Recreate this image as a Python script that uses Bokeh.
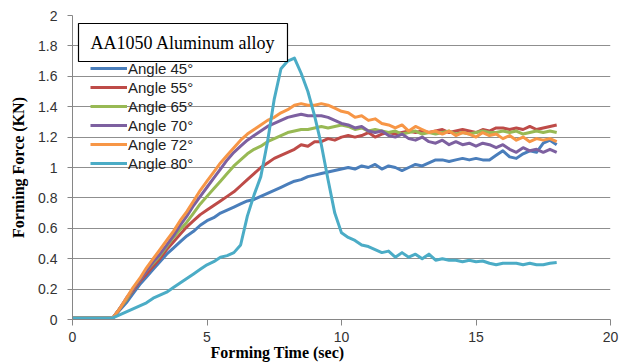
import math
from bokeh.plotting import figure
from bokeh.models import (ColumnDataSource, Legend, LegendItem, Label, Title,
                          CustomJSTickFormatter, FixedTicker)
from bokeh.embed import file_html
from bokeh.resources import INLINE

# ---------------- data ----------------
time_s = [0, 0.25, 0.5, 0.75, 1, 1.25, 1.5, 1.75,
          2, 2.25, 2.5, 2.75, 3, 3.25, 3.5, 3.75,
          4, 4.25, 4.5, 4.75, 5, 5.25, 5.5, 5.75,
          6, 6.25, 6.5, 6.75, 7, 7.25, 7.5, 7.75,
          8, 8.25, 8.5, 8.75, 9, 9.25, 9.5, 9.75,
          10, 10.25, 10.5, 10.75, 11, 11.25, 11.5, 11.75,
          12, 12.25, 12.5, 12.75, 13, 13.25, 13.5, 13.75,
          14, 14.25, 14.5, 14.75, 15, 15.25, 15.5, 15.75,
          16, 16.25, 16.5, 16.75, 17, 17.25, 17.5, 17.75,
          18]

angle_45 = [0.01, 0.01, 0.01, 0.01, 0.01, 0.01, 0.01, 0.06,
            0.11, 0.17, 0.23, 0.28, 0.33, 0.38, 0.43, 0.47,
            0.51, 0.55, 0.58, 0.62, 0.65, 0.67, 0.70, 0.72,
            0.74, 0.76, 0.78, 0.79, 0.81, 0.83, 0.85, 0.87,
            0.89, 0.91, 0.92, 0.94, 0.95, 0.96, 0.97, 0.98,
            0.99, 1.00, 0.99, 1.01, 1.00, 1.02, 0.99, 1.01,
            1.00, 0.98, 1.00, 1.02, 1.01, 1.03, 1.05, 1.05,
            1.04, 1.05, 1.06, 1.05, 1.06, 1.05, 1.05, 1.08,
            1.11, 1.07, 1.06, 1.09, 1.11, 1.10, 1.16, 1.18,
            1.15]

angle_55 = [0.01, 0.01, 0.01, 0.01, 0.01, 0.01, 0.01, 0.07,
            0.13, 0.19, 0.25, 0.30, 0.35, 0.40, 0.46, 0.51,
            0.56, 0.61, 0.65, 0.69, 0.72, 0.75, 0.78, 0.81,
            0.84, 0.88, 0.92, 0.96, 1.00, 1.03, 1.06, 1.08,
            1.10, 1.12, 1.15, 1.14, 1.17, 1.17, 1.19, 1.18,
            1.20, 1.21, 1.20, 1.21, 1.23, 1.20, 1.22, 1.23,
            1.22, 1.23, 1.24, 1.23, 1.24, 1.23, 1.24, 1.25,
            1.23, 1.24, 1.25, 1.24, 1.23, 1.25, 1.24, 1.26,
            1.26, 1.25, 1.26, 1.25, 1.27, 1.25, 1.26, 1.27,
            1.28]

angle_65 = [0.01, 0.01, 0.01, 0.01, 0.01, 0.01, 0.01, 0.07,
            0.13, 0.20, 0.26, 0.32, 0.37, 0.42, 0.48, 0.54,
            0.59, 0.64, 0.70, 0.76, 0.81, 0.86, 0.91, 0.96,
            1.01, 1.05, 1.09, 1.12, 1.14, 1.17, 1.19, 1.21,
            1.23, 1.24, 1.25, 1.25, 1.26, 1.27, 1.26, 1.27,
            1.28, 1.27, 1.25, 1.26, 1.24, 1.25, 1.24, 1.23,
            1.24, 1.22, 1.23, 1.24, 1.22, 1.23, 1.22, 1.23,
            1.24, 1.22, 1.23, 1.22, 1.23, 1.24, 1.23, 1.23,
            1.24, 1.23, 1.24, 1.22, 1.23, 1.24, 1.23, 1.24,
            1.23]

angle_70 = [0.01, 0.01, 0.01, 0.01, 0.01, 0.01, 0.01, 0.07,
            0.14, 0.20, 0.26, 0.32, 0.38, 0.43, 0.49, 0.55,
            0.62, 0.68, 0.75, 0.81, 0.87, 0.93, 0.99, 1.05,
            1.10, 1.14, 1.18, 1.21, 1.24, 1.27, 1.29, 1.31,
            1.33, 1.34, 1.35, 1.34, 1.34, 1.34, 1.33, 1.31,
            1.29, 1.28, 1.26, 1.27, 1.24, 1.23, 1.24, 1.21,
            1.20, 1.22, 1.19, 1.18, 1.20, 1.17, 1.16, 1.18,
            1.15, 1.17, 1.15, 1.16, 1.14, 1.16, 1.15, 1.13,
            1.15, 1.12, 1.10, 1.13, 1.11, 1.12, 1.10, 1.12,
            1.10]

angle_72 = [0.01, 0.01, 0.01, 0.01, 0.01, 0.01, 0.01, 0.07,
            0.14, 0.21, 0.27, 0.34, 0.40, 0.46, 0.52, 0.58,
            0.65, 0.71, 0.78, 0.85, 0.91, 0.97, 1.03, 1.08,
            1.13, 1.18, 1.22, 1.25, 1.28, 1.31, 1.33, 1.36,
            1.38, 1.41, 1.42, 1.41, 1.41, 1.42, 1.41, 1.39,
            1.37, 1.36, 1.33, 1.34, 1.31, 1.32, 1.29, 1.28,
            1.26, 1.28, 1.24, 1.27, 1.25, 1.23, 1.24, 1.22,
            1.24, 1.21, 1.23, 1.22, 1.20, 1.23, 1.21, 1.22,
            1.19, 1.21, 1.18, 1.20, 1.17, 1.19, 1.18, 1.19,
            1.17]

angle_80 = [0.01, 0.01, 0.01, 0.01, 0.01, 0.01, 0.01, 0.03,
            0.05, 0.07, 0.09, 0.11, 0.14, 0.16, 0.18, 0.21,
            0.24, 0.27, 0.30, 0.33, 0.36, 0.38, 0.41, 0.42,
            0.44, 0.49, 0.68, 0.82, 0.94, 1.17, 1.45, 1.65,
            1.70, 1.72, 1.62, 1.50, 1.34, 1.15, 0.92, 0.70,
            0.57, 0.54, 0.52, 0.49, 0.48, 0.46, 0.44, 0.45,
            0.41, 0.44, 0.41, 0.43, 0.40, 0.43, 0.39, 0.40,
            0.39, 0.39, 0.38, 0.39, 0.38, 0.385, 0.37, 0.36,
            0.37, 0.37, 0.37, 0.36, 0.37, 0.36, 0.36, 0.37,
            0.375]

series_labels = ["Angle 45°", "Angle 55°", "Angle 65°",
                 "Angle 70°", "Angle 72°", "Angle 80°"]
series_values = [angle_45, angle_55, angle_65, angle_70, angle_72, angle_80]
series_colors = ["#4A7EBB", "#BE4B48", "#98B954", "#7D60A0", "#F79646", "#4BACC6"]

x_ticks = [0, 5, 10, 15, 20]
y_ticks = [0, 0.2, 0.4, 0.6, 0.8, 1.0, 1.2, 1.4, 1.6, 1.8, 2.0]

title_text = "AA1050 Aluminum alloy"
x_title = "Forming Time (sec)"
y_title = "Forming Force (KN)"

# ---------------- figure ----------------
p = figure(width=630, height=363, x_range=(0, 20), y_range=(0, 2),
           output_backend="svg", toolbar_location=None,
           min_border_left=72, min_border_right=20,
           min_border_top=15, min_border_bottom=44)
p.outline_line_color = None
p.background_fill_color = "white"
p.border_fill_color = "white"

axis_grey = "#868686"
tick_font = "Liberation Sans"
serif = "Liberation Serif"

p.xaxis.ticker = FixedTicker(ticks=x_ticks)
p.yaxis.ticker = FixedTicker(ticks=y_ticks)
p.yaxis.formatter = CustomJSTickFormatter(code="return String(Math.round(tick*10)/10);")

for ax in (p.xaxis, p.yaxis):
    ax.axis_line_color = axis_grey
    ax.axis_line_width = 1
    ax.major_tick_line_color = axis_grey
    ax.major_tick_in = 0
    ax.minor_tick_line_color = None
    ax.major_label_text_font = tick_font
    ax.major_label_text_font_size = "14px"
    ax.major_label_text_color = "#333333"

p.xaxis.major_tick_out = 6
p.xaxis.major_label_standoff = 6
p.yaxis.major_tick_out = 5
p.yaxis.major_label_standoff = 10

p.yaxis.axis_label = y_title
p.yaxis.axis_label_text_font = serif
p.yaxis.axis_label_text_font_size = "16px"
p.yaxis.axis_label_text_font_style = "bold"
p.yaxis.axis_label_text_color = "black"
p.yaxis.axis_label_standoff = 8

p.xgrid.grid_line_color = None
p.ygrid.grid_line_color = "#8f8f8f"
p.ygrid.grid_line_width = 1.2

renderers = []
for lab, vals, col in zip(series_labels, series_values, series_colors):
    src = ColumnDataSource(dict(t=time_s, f=vals))
    r = p.line("t", "f", source=src, line_color=col, line_width=3,
               line_join="round")
    renderers.append(r)

legend = Legend(items=[LegendItem(label=l, renderers=[r])
                       for l, r in zip(series_labels, renderers)],
                location=(18, 147), orientation="vertical",
                glyph_width=37, glyph_height=18, label_height=18,
                spacing=1, padding=0, margin=0, label_standoff=1,
                label_text_font=tick_font, label_text_font_size="15px",
                label_text_color="#222222",
                background_fill_alpha=0, border_line_alpha=0)
p.add_layout(legend)

title_box = Label(x=6, y=296, x_units="screen", y_units="screen",
                  text=title_text, text_font=serif,
                  text_font_size="18px", text_color="black",
                  text_align="left", text_baseline="top",
                  border_line_color="black", border_line_width=1.2,
                  background_fill_color="white", padding=(12, 9))
p.add_layout(title_box)

xlab = Title(text=x_title, align="left", offset=138, standoff=-6,
             text_font=serif, text_font_size="16px", text_font_style="bold",
             text_color="black")
p.add_layout(xlab, "below")

open("out.html", "w").write(file_html(p, INLINE))
